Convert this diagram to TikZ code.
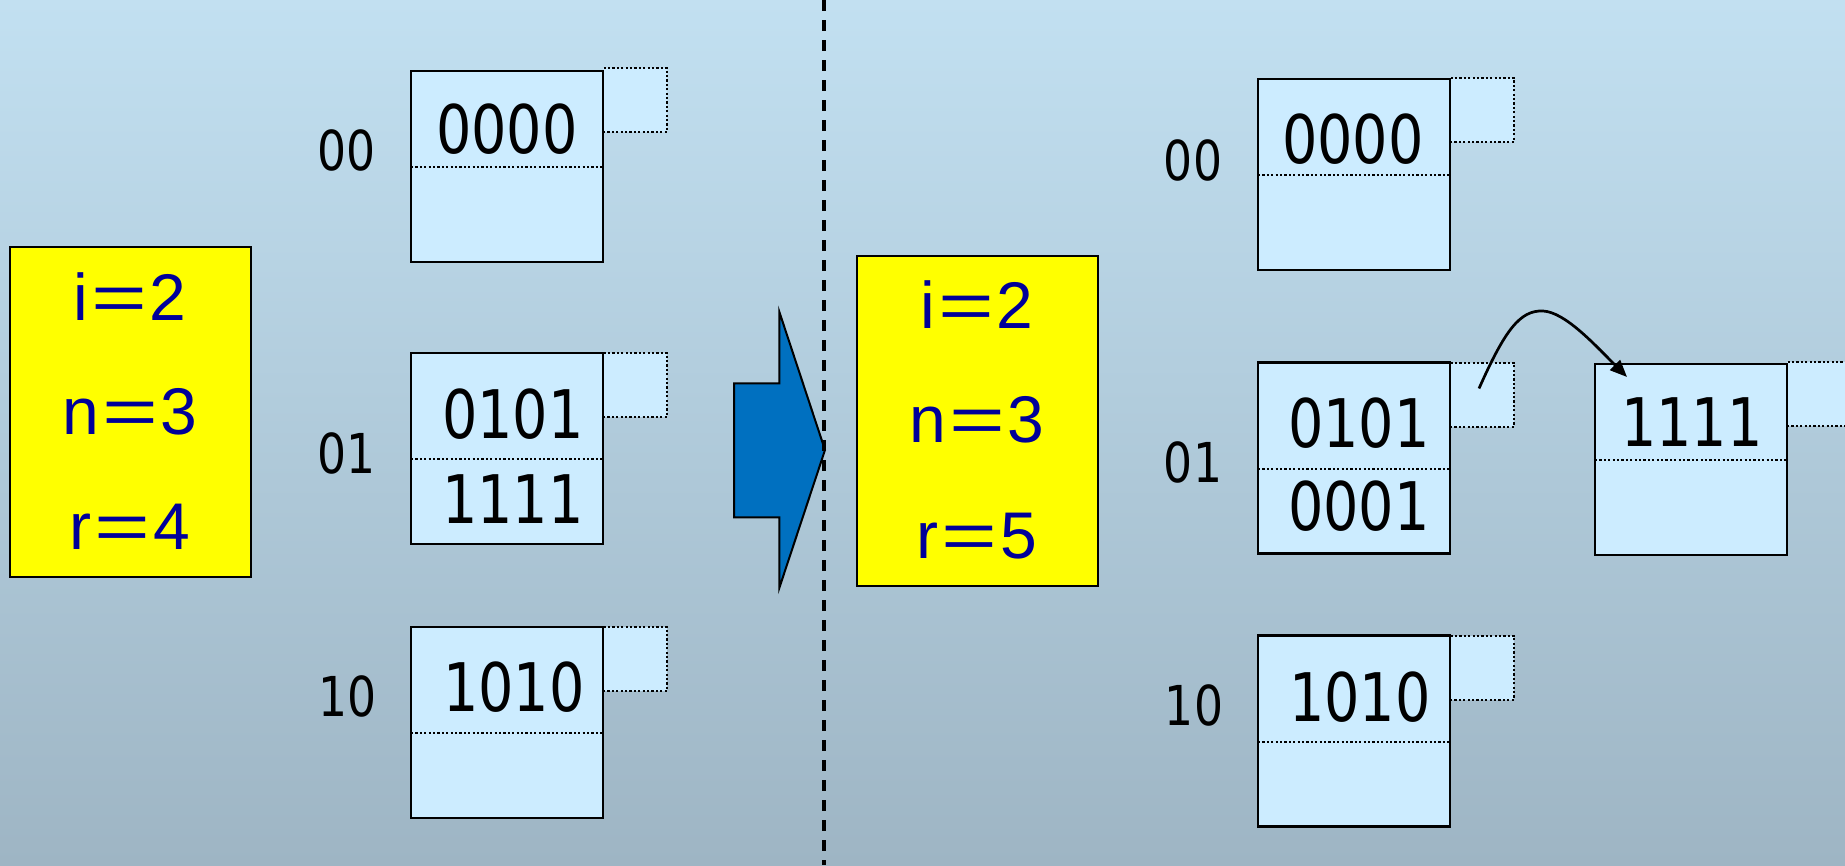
\documentclass[tikz,border=0pt]{standalone}
\usepackage{fontspec}
\usepackage{graphicx}
\setmainfont{Liberation Sans}
\newfontfamily\digitfont[FakeStretch=0.83]{DejaVu Sans}
\usetikzlibrary{arrows.meta}
\definecolor{bgtop}{RGB}{194,224,241}
\definecolor{bgbot}{RGB}{158,181,196}
\definecolor{bucketfill}{RGB}{204,236,255}
\definecolor{infoyellow}{RGB}{255,255,0}
\definecolor{infoblue}{RGB}{0,0,153}
\definecolor{arrowblue}{RGB}{0,112,192}
\newcommand\weq{\hspace{3pt}\scalebox{1.45}[1]{=}\hspace{3pt}}
\begin{document}
\begin{tikzpicture}[x=1pt,y=-1pt,
  bucket/.style={draw=black,line width=2.2pt,fill=bucketfill,minimum width=192pt,minimum height=191pt,inner sep=0pt,outer sep=0pt,anchor=north west},
  ovf/.style={draw=black,line width=2pt,dash pattern=on 2.2pt off 2.2pt,fill=bucketfill,minimum width=64pt,minimum height=64pt,inner sep=0pt,outer sep=0pt,anchor=north west},
  divider/.style={line width=2pt,dash pattern=on 2.2pt off 2.2pt},
  rec/.style={font=\digitfont\fontsize{67}{67}\selectfont,inner sep=0pt,text=black},
  lbl/.style={font=\digitfont\fontsize{55}{55}\selectfont,inner sep=0pt,text=black},
  info/.style={draw=black,line width=2pt,fill=infoyellow,minimum width=241pt,minimum height=330pt,inner sep=0pt,outer sep=0pt,anchor=north west},
  infotext/.style={font=\fontsize{66}{66}\selectfont,text=infoblue,inner sep=0pt},
  sepline/.style={line width=3.2pt,dash pattern=on 11pt off 9pt},
  ptrarrow/.style={line width=2.7pt,-{Triangle[length=17pt,width=14pt]}},
  bigarrow/.style={draw=black,line width=2pt,fill=arrowblue,line join=miter}
]
\useasboundingbox (0,0) rectangle (1845,865);
\clip (0,0) rectangle (1845,865);
\shade[top color=bgtop,bottom color=bgbot] (0,0) rectangle (1845,865);

% ---------- left side ----------
\node[info] (infoL) at (9.5,247) {};
\node[infotext] (iL) at (130,297) {i\weq 2};
\node[infotext] (nL) at (130,412) {n\weq 3};
\node[infotext] (rL) at (130,527) {r\weq 4};

\node[ovf] (oL00) at (603,68) {};
\node[bucket] (bL00) at (411,71) {};
\draw[divider] ([shift={(0,96)}]bL00.north west) -- ([shift={(0,96)}]bL00.north east);
\node[rec] (tL00a) at (507,129) {0000};
\node[lbl] (lL00) at (347,150) {00};

\node[ovf] (oL01) at (603,353) {};
\node[bucket] (bL01) at (411,353) {};
\draw[divider] ([shift={(0,106)}]bL01.north west) -- ([shift={(0,106)}]bL01.north east);
\node[rec] (tL01a) at (513,414) {0101};
\node[rec] (tL01b) at (513,499) {1111};
\node[lbl] (lL01) at (347,453) {01};

\node[ovf] (oL10) at (603,627) {};
\node[bucket] (bL10) at (411,627) {};
\draw[divider] ([shift={(0,106)}]bL10.north west) -- ([shift={(0,106)}]bL10.north east);
\node[rec] (tL10a) at (514,687) {1010};
\node[lbl] (lL10) at (348,696) {10};

% ---------- transition arrow and separator ----------
\draw[bigarrow] (734,383.3) -- (779.3,383.3) -- (779.3,311.7) -- (825,450)
  -- (779.3,588) -- (779.3,517.3) -- (734,517.3) -- cycle;
\draw[sepline] (824,0) -- (824,865);

% ---------- right side ----------
\node[info] (infoR) at (857,255.5) {};
\node[infotext] (iR) at (977,305) {i\weq 2};
\node[infotext] (nR) at (977,420) {n\weq 3};
\node[infotext] (rR) at (977,536) {r\weq 5};

\node[ovf] (oR00) at (1450,77.7) {};
\node[bucket] (bR00) at (1258,79) {};
\draw[divider] ([shift={(0,96)}]bR00.north west) -- ([shift={(0,96)}]bR00.north east);
\node[rec] (tR00a) at (1353,139) {0000};
\node[lbl] (lR00) at (1193,160) {00};

\node[ovf] (oR01) at (1450,362.5) {};
\node[bucket] (bR01) at (1258,362.5) {};
\draw[divider] ([shift={(0,106)}]bR01.north west) -- ([shift={(0,106)}]bR01.north east);
\node[rec] (tR01a) at (1359,423.5) {0101};
\node[rec] (tR01b) at (1359,506) {0001};
\node[lbl] (lR01) at (1193,462.5) {01};

\node[ovf] (oR11) at (1787,362.3) {};
\node[bucket] (bR11) at (1595,364) {};
\draw[divider] ([shift={(0,96)}]bR11.north west) -- ([shift={(0,96)}]bR11.north east);
\node[rec] (tR11a) at (1692,422) {1111};

\node[ovf] (oR10) at (1450,635.5) {};
\node[bucket] (bR10) at (1258,635.5) {};
\draw[divider] ([shift={(0,106)}]bR10.north west) -- ([shift={(0,106)}]bR10.north east);
\node[rec] (tR10a) at (1360,697) {1010};
\node[lbl] (lR10) at (1194,705) {10};

% ---------- overflow pointer ----------
\coordinate (ptr) at ([shift={(29,26)}]oR01.north west);
\coordinate (ptrend) at ([shift={(32,13)}]bR11.north west);
\draw[ptrarrow] (ptr) .. controls (1505,330) and (1520,310) .. (1543,311)
  .. controls (1565,312) and (1595,345) .. (ptrend);
\end{tikzpicture}
\end{document}
